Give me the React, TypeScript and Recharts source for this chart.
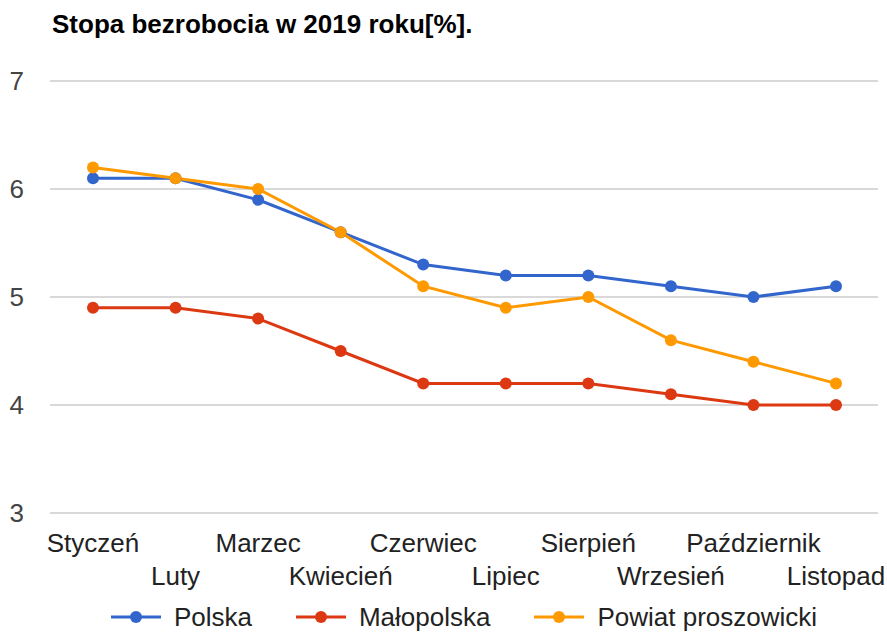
import React from 'react';
import { LineChart, Line, XAxis, YAxis, CartesianGrid, Legend } from 'recharts';

const months = ['Styczeń', 'Luty', 'Marzec', 'Kwiecień', 'Czerwiec', 'Lipiec', 'Sierpień', 'Wrzesień', 'Październik', 'Listopad'];
const polska = [6.1, 6.1, 5.9, 5.6, 5.3, 5.2, 5.2, 5.1, 5.0, 5.1];
const malopolska = [4.9, 4.9, 4.8, 4.5, 4.2, 4.2, 4.2, 4.1, 4.0, 4.0];
const powiat = [6.2, 6.1, 6.0, 5.6, 5.1, 4.9, 5.0, 4.6, 4.4, 4.2];
const yTicks = [3, 4, 5, 6, 7];
const seriesNames = ['Polska', 'Małopolska', 'Powiat proszowicki'];
const colors = ['#3366cc', '#dc3912', '#ff9900'];
const title = 'Stopa bezrobocia w 2019 roku[%].';

const data = months.map((m, i) => ({ month: m, s0: polska[i], s1: malopolska[i], s2: powiat[i] }));

const FONT = 'Arial, "Liberation Sans", sans-serif';

const XTick = (props: any) => {
  const { x, y, payload, index } = props;
  return (
    <text x={x} y={y} dy={index % 2 === 0 ? 39 : 72} textAnchor="middle" fontSize={26} fill="#222" fontFamily={FONT}>
      {payload.value}
    </text>
  );
};

const YTick = (props: any) => {
  const { x, y, payload } = props;
  return (
    <text x={x - 26} y={y} dy={9} textAnchor="end" fontSize={26} fill="#444" fontFamily={FONT}>
      {payload.value}
    </text>
  );
};

const LegendContent = () => (
  <div style={{ width: 887, height: 30, boxSizing: 'border-box', paddingLeft: 41, display: 'flex', justifyContent: 'center', alignItems: 'center', fontFamily: FONT, fontSize: 26, color: '#222' }}>
    {seriesNames.map((n, i) => (
      <div key={n} style={{ display: 'flex', alignItems: 'center', marginRight: i < seriesNames.length - 1 ? 44 : 0 }}>
        <svg width={50} height={14} style={{ marginRight: 13 }}>
          <line x1={0} y1={7} x2={50} y2={7} stroke={colors[i]} strokeWidth={3} />
          <circle cx={25} cy={7} r={6} fill={colors[i]} />
        </svg>
        <span style={{ lineHeight: '30px' }}>{n}</span>
      </div>
    ))}
  </div>
);

export default function App() {
  return (
    <div style={{ position: 'absolute', left: 0, top: 0, width: 887, height: 632, background: '#fff' }}>
      <div style={{ position: 'absolute', left: 52, top: 9, fontFamily: FONT, fontWeight: 'bold', fontSize: 26, color: '#000', lineHeight: '30px', whiteSpace: 'nowrap', zIndex: 2 }}>
        {title}
      </div>
      <LineChart width={887} height={632} data={data} margin={{ top: 81, right: 9, bottom: 0, left: 0 }}>
        <CartesianGrid vertical={false} stroke="#cccccc" strokeWidth={1.5} />
        <XAxis dataKey="month" axisLine={false} tickLine={false} tickSize={0} tickMargin={0} interval={0} height={89} padding={{ left: 43, right: 42 }} tick={<XTick />} />
        <YAxis domain={[3, 7]} ticks={yTicks} axisLine={false} tickLine={false} tickSize={0} tickMargin={0} width={50} tick={<YTick />} />
        <Legend verticalAlign="bottom" content={<LegendContent />} />
        <Line type="linear" dataKey="s0" name={seriesNames[0]} stroke={colors[0]} strokeWidth={3} dot={{ r: 6, fill: colors[0], stroke: colors[0], strokeWidth: 0 }} isAnimationActive={false} />
        <Line type="linear" dataKey="s1" name={seriesNames[1]} stroke={colors[1]} strokeWidth={3} dot={{ r: 6, fill: colors[1], stroke: colors[1], strokeWidth: 0 }} isAnimationActive={false} />
        <Line type="linear" dataKey="s2" name={seriesNames[2]} stroke={colors[2]} strokeWidth={3} dot={{ r: 6, fill: colors[2], stroke: colors[2], strokeWidth: 0 }} isAnimationActive={false} />
      </LineChart>
    </div>
  );
}
